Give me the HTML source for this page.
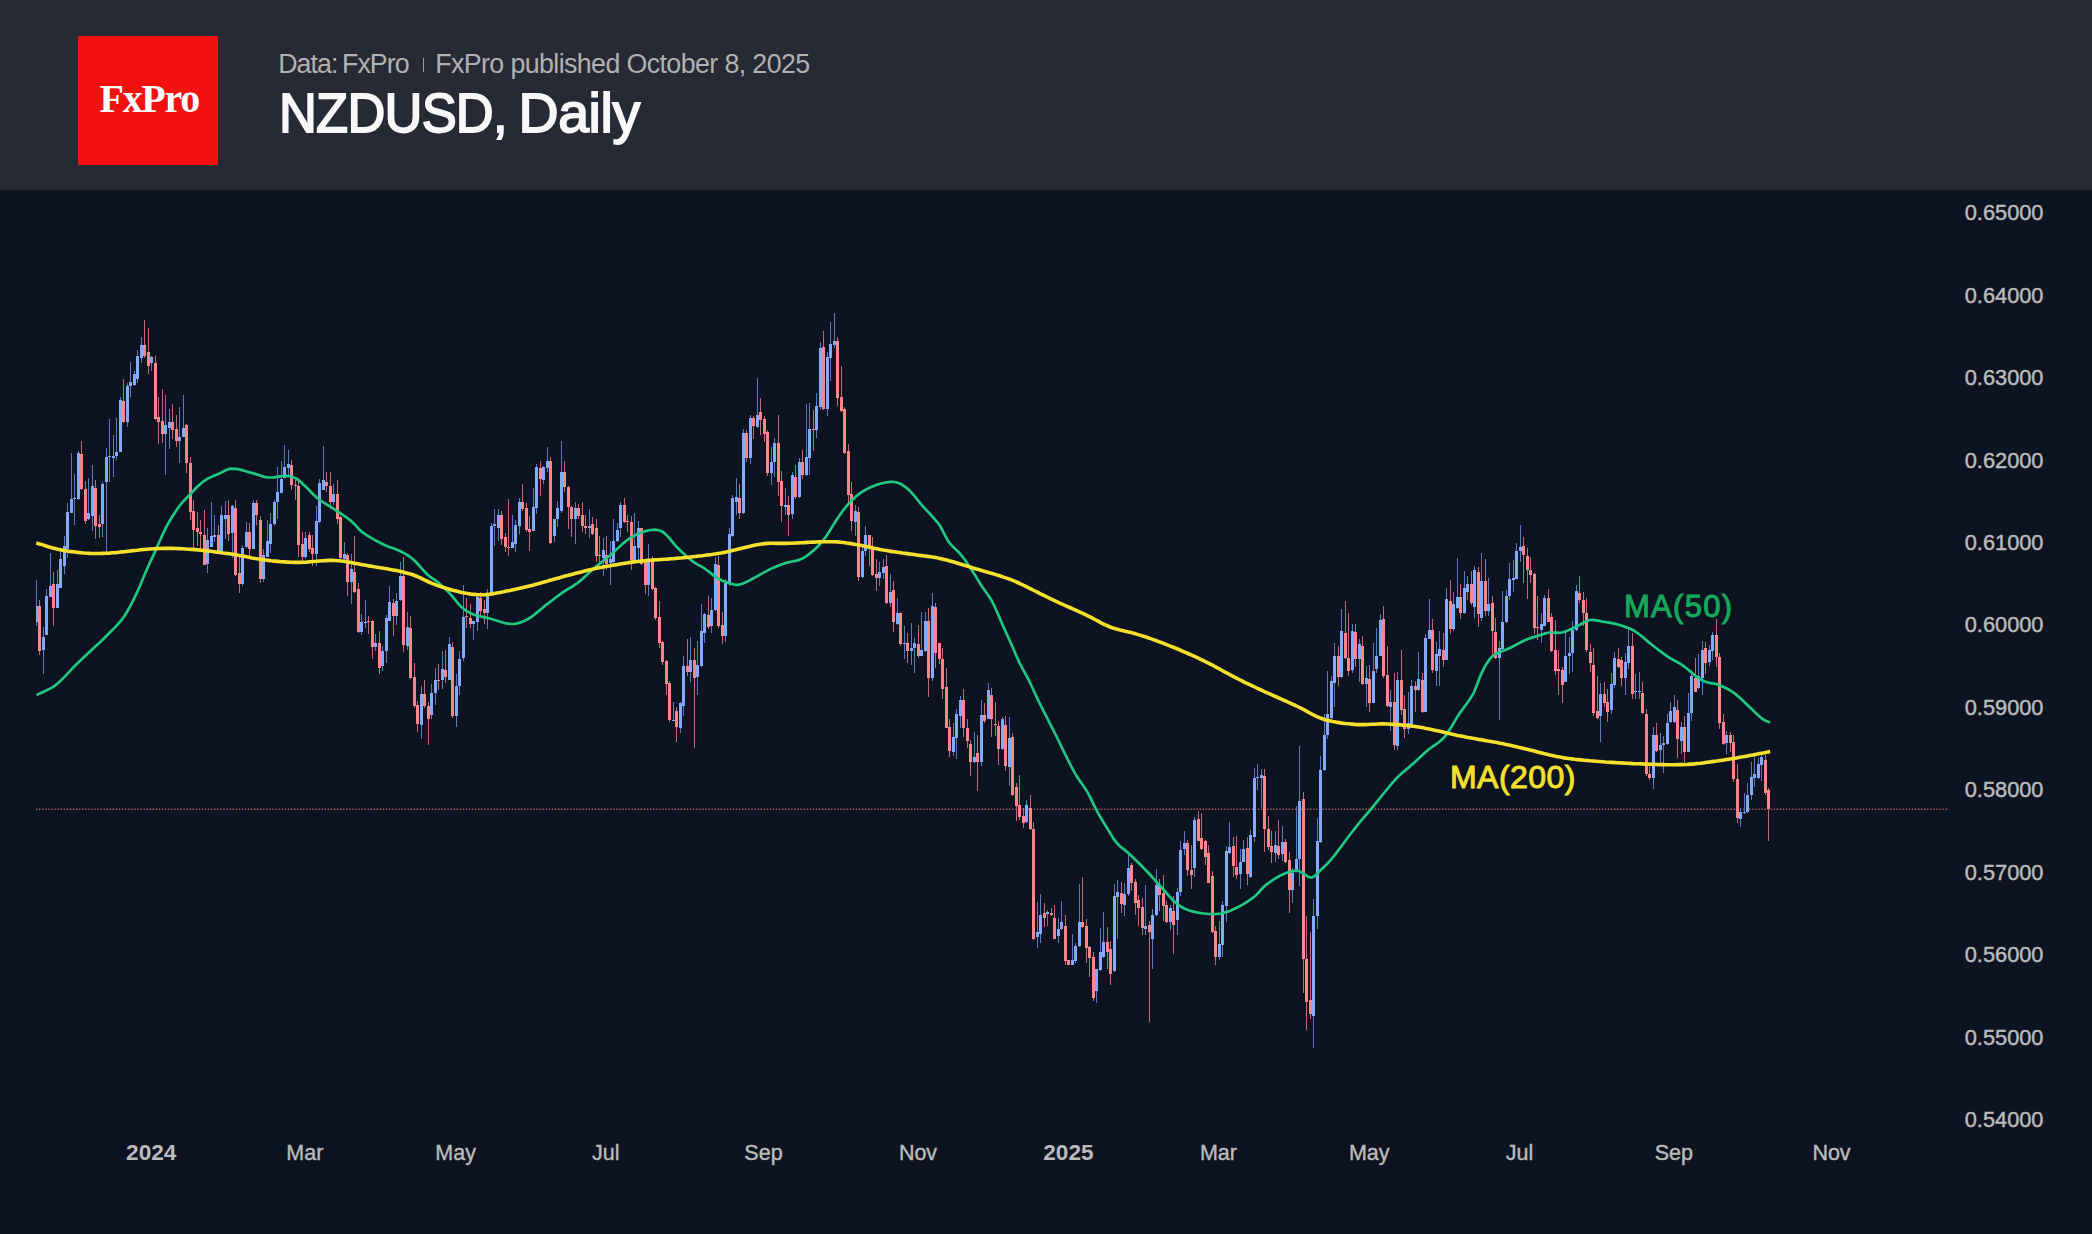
<!DOCTYPE html>
<html><head><meta charset="utf-8"><title>NZDUSD, Daily</title>
<style>
html,body{margin:0;padding:0;background:#0d1321;}
body{width:2092px;height:1234px;overflow:hidden;position:relative;font-family:"Liberation Sans",sans-serif;}
#hdr{position:absolute;left:0;top:0;width:2092px;height:189.5px;background:#272935;}
#logo{position:absolute;left:78px;top:36px;width:140px;height:129.2px;background:#f21011;}
#logo span{position:absolute;left:21.5px;top:39.9px;font-family:"Liberation Serif",serif;font-weight:bold;font-size:40px;line-height:46px;color:#fff;letter-spacing:-1.3px;white-space:nowrap;}
.sub{position:absolute;top:47.8px;font-size:26.8px;line-height:32px;color:#b1b1b1;white-space:nowrap;}
#s1{left:278.2px;letter-spacing:-0.95px;word-spacing:-2px;}
#s2{left:435.2px;letter-spacing:-0.61px;}
#sep{position:absolute;left:423px;top:57.5px;width:1.2px;height:14.4px;background:#9c9c9c;}
.ttl{position:absolute;top:81.1px;font-size:55.5px;line-height:64px;color:#f8f8f8;white-space:nowrap;-webkit-text-stroke:1.8px #f8f8f8;}
#t1{left:278.8px;letter-spacing:-0.8px;transform:scaleX(0.945);transform-origin:0 0;}
#t2{left:518.5px;letter-spacing:-0.43px;}
svg{position:absolute;left:0;top:0;}
</style></head><body>
<div id="hdr"><div id="logo"><span>FxPro</span></div>
<div class="sub" id="s1">Data: FxPro</div><div id="sep"></div><div class="sub" id="s2">FxPro published October 8, 2025</div>
<div class="ttl" id="t1">NZDUSD,</div><div class="ttl" id="t2">Daily</div></div>
<svg width="2092" height="1234" viewBox="0 0 2092 1234">
<defs><clipPath id="cp"><rect x="36" y="190" width="1913" height="940"/></clipPath></defs>
<g clip-path="url(#cp)">
<line x1="36" y1="809.2" x2="1949" y2="809.2" stroke="#ad5f69" stroke-width="1.4" stroke-dasharray="1.4 1.67"/>
<g shape-rendering="crispEdges">
<path fill="#5b79bd" d="M36 580h1V626h-1zM43 627h1V674h-1zM46 589h1V635h-1zM50 553h1V597h-1zM57 570h1V608h-1zM60 550h1V588h-1zM64 536h1V574h-1zM67 503h1V558h-1zM71 453h1V513h-1zM74 474h1V525h-1zM78 451h1V500h-1zM88 478h1V520h-1zM92 465h1V531h-1zM102 482h1V537h-1zM106 448h1V554h-1zM109 419h1V482h-1zM113 435h1V477h-1zM116 418h1V460h-1zM120 397h1V452h-1zM127 383h1V427h-1zM130 362h1V397h-1zM134 371h1V386h-1zM137 350h1V383h-1zM141 337h1V363h-1zM151 356h1V371h-1zM165 395h1V475h-1zM169 409h1V449h-1zM179 407h1V463h-1zM183 395h1V437h-1zM207 528h1V573h-1zM211 502h1V547h-1zM214 515h1V542h-1zM221 506h1V553h-1zM225 501h1V539h-1zM232 505h1V558h-1zM242 545h1V586h-1zM246 522h1V548h-1zM253 500h1V549h-1zM263 549h1V582h-1zM267 520h1V557h-1zM270 513h1V553h-1zM274 500h1V526h-1zM277 467h1V519h-1zM281 461h1V493h-1zM284 445h1V478h-1zM288 450h1V477h-1zM305 532h1V559h-1zM316 506h1V566h-1zM319 479h1V523h-1zM323 446h1V490h-1zM333 484h1V505h-1zM344 542h1V560h-1zM351 554h1V604h-1zM361 614h1V635h-1zM365 600h1V628h-1zM375 634h1V651h-1zM382 646h1V671h-1zM386 615h1V663h-1zM389 586h1V621h-1zM396 593h1V625h-1zM400 562h1V601h-1zM407 612h1V650h-1zM421 686h1V739h-1zM431 684h1V719h-1zM435 668h1V705h-1zM442 651h1V689h-1zM449 637h1V680h-1zM456 674h1V727h-1zM459 651h1V695h-1zM463 585h1V661h-1zM473 621h1V640h-1zM477 595h1V631h-1zM487 589h1V629h-1zM491 523h1V594h-1zM494 509h1V546h-1zM498 509h1V541h-1zM512 515h1V548h-1zM515 520h1V552h-1zM519 498h1V534h-1zM533 488h1V531h-1zM536 464h1V514h-1zM543 466h1V484h-1zM547 447h1V472h-1zM554 519h1V542h-1zM557 501h1V527h-1zM561 441h1V513h-1zM575 502h1V544h-1zM589 509h1V538h-1zM603 538h1V576h-1zM610 541h1V585h-1zM613 519h1V566h-1zM617 523h1V542h-1zM620 502h1V537h-1zM634 513h1V561h-1zM638 521h1V560h-1zM648 544h1V596h-1zM673 702h1V721h-1zM680 702h1V733h-1zM683 656h1V716h-1zM690 637h1V682h-1zM697 641h1V695h-1zM701 604h1V667h-1zM704 613h1V643h-1zM711 598h1V633h-1zM715 557h1V611h-1zM725 579h1V642h-1zM729 528h1V586h-1zM732 495h1V537h-1zM736 478h1V515h-1zM743 429h1V514h-1zM750 415h1V464h-1zM757 378h1V428h-1zM771 447h1V485h-1zM774 438h1V477h-1zM785 488h1V515h-1zM792 472h1V519h-1zM799 458h1V498h-1zM806 404h1V476h-1zM809 403h1V475h-1zM816 393h1V438h-1zM820 342h1V410h-1zM827 352h1V416h-1zM830 322h1V381h-1zM834 313h1V348h-1zM855 505h1V536h-1zM862 544h1V578h-1zM865 526h1V556h-1zM879 562h1V586h-1zM883 559h1V579h-1zM890 574h1V607h-1zM897 598h1V625h-1zM904 626h1V659h-1zM911 623h1V665h-1zM914 638h1V673h-1zM921 612h1V656h-1zM925 612h1V652h-1zM932 593h1V681h-1zM953 723h1V756h-1zM956 709h1V759h-1zM960 696h1V728h-1zM974 732h1V763h-1zM981 700h1V766h-1zM988 683h1V719h-1zM1002 717h1V750h-1zM1009 717h1V786h-1zM1026 800h1V823h-1zM1037 902h1V948h-1zM1040 894h1V943h-1zM1047 910h1V926h-1zM1058 918h1V943h-1zM1061 901h1V930h-1zM1072 934h1V965h-1zM1075 943h1V963h-1zM1079 884h1V947h-1zM1096 969h1V1003h-1zM1100 928h1V971h-1zM1103 912h1V958h-1zM1114 884h1V972h-1zM1117 880h1V939h-1zM1124 883h1V916h-1zM1128 853h1V896h-1zM1145 885h1V935h-1zM1152 909h1V969h-1zM1156 869h1V916h-1zM1170 905h1V930h-1zM1177 888h1V935h-1zM1180 841h1V896h-1zM1184 831h1V855h-1zM1194 817h1V877h-1zM1219 921h1V960h-1zM1222 901h1V957h-1zM1226 846h1V922h-1zM1229 822h1V854h-1zM1240 849h1V889h-1zM1243 840h1V862h-1zM1250 830h1V878h-1zM1254 768h1V842h-1zM1257 764h1V790h-1zM1261 769h1V808h-1zM1275 831h1V862h-1zM1282 826h1V861h-1zM1292 868h1V903h-1zM1296 806h1V872h-1zM1299 746h1V886h-1zM1313 899h1V1048h-1zM1317 818h1V929h-1zM1320 756h1V843h-1zM1324 714h1V771h-1zM1327 671h1V739h-1zM1331 676h1V719h-1zM1334 643h1V707h-1zM1341 609h1V678h-1zM1352 624h1V673h-1zM1359 639h1V682h-1zM1366 666h1V707h-1zM1373 643h1V703h-1zM1376 628h1V673h-1zM1380 614h1V656h-1zM1390 690h1V731h-1zM1397 672h1V750h-1zM1408 692h1V734h-1zM1411 680h1V727h-1zM1418 652h1V691h-1zM1425 634h1V712h-1zM1429 599h1V639h-1zM1436 642h1V686h-1zM1439 631h1V686h-1zM1446 588h1V660h-1zM1453 592h1V631h-1zM1457 558h1V609h-1zM1464 571h1V614h-1zM1467 576h1V600h-1zM1474 566h1V618h-1zM1481 553h1V621h-1zM1488 578h1V616h-1zM1499 641h1V720h-1zM1502 591h1V650h-1zM1506 590h1V623h-1zM1509 563h1V600h-1zM1513 560h1V592h-1zM1516 543h1V579h-1zM1520 525h1V562h-1zM1541 613h1V643h-1zM1544 595h1V626h-1zM1565 632h1V682h-1zM1569 637h1V674h-1zM1572 621h1V672h-1zM1576 585h1V631h-1zM1600 683h1V742h-1zM1611 673h1V714h-1zM1614 652h1V688h-1zM1625 653h1V695h-1zM1628 628h1V669h-1zM1635 674h1V699h-1zM1639 672h1V699h-1zM1653 727h1V789h-1zM1660 733h1V765h-1zM1663 736h1V773h-1zM1667 714h1V745h-1zM1670 702h1V723h-1zM1674 695h1V723h-1zM1681 722h1V754h-1zM1688 693h1V752h-1zM1691 670h1V721h-1zM1698 654h1V689h-1zM1702 641h1V695h-1zM1709 645h1V666h-1zM1712 632h1V660h-1zM1726 731h1V754h-1zM1740 808h1V827h-1zM1744 793h1V814h-1zM1747 783h1V813h-1zM1751 762h1V800h-1zM1754 754h1V787h-1zM1758 758h1V779h-1zM1761 752h1V781h-1z"/>
<path fill="#c26a73" d="M39 600h1V655h-1zM53 572h1V626h-1zM81 441h1V490h-1zM85 481h1V524h-1zM95 480h1V539h-1zM99 515h1V538h-1zM123 379h1V423h-1zM144 320h1V358h-1zM148 328h1V374h-1zM155 356h1V420h-1zM158 397h1V444h-1zM162 389h1V443h-1zM172 404h1V439h-1zM176 415h1V447h-1zM186 424h1V473h-1zM190 457h1V520h-1zM193 500h1V551h-1zM197 512h1V546h-1zM200 520h1V550h-1zM204 510h1V565h-1zM218 525h1V552h-1zM228 500h1V541h-1zM235 500h1V576h-1zM239 557h1V593h-1zM249 523h1V558h-1zM256 500h1V525h-1zM260 516h1V583h-1zM291 460h1V490h-1zM295 478h1V500h-1zM298 478h1V557h-1zM302 532h1V561h-1zM309 532h1V552h-1zM312 535h1V566h-1zM326 472h1V492h-1zM330 472h1V509h-1zM337 480h1V524h-1zM340 516h1V559h-1zM347 553h1V596h-1zM354 536h1V593h-1zM358 583h1V633h-1zM368 616h1V634h-1zM372 620h1V659h-1zM379 631h1V674h-1zM393 599h1V636h-1zM403 557h1V652h-1zM410 616h1V679h-1zM414 663h1V708h-1zM417 701h1V732h-1zM424 680h1V708h-1zM428 702h1V745h-1zM438 664h1V690h-1zM445 650h1V683h-1zM452 642h1V718h-1zM466 598h1V628h-1zM470 604h1V628h-1zM480 592h1V617h-1zM484 600h1V624h-1zM501 511h1V545h-1zM505 533h1V552h-1zM508 499h1V556h-1zM522 484h1V511h-1zM526 503h1V532h-1zM529 516h1V551h-1zM540 461h1V496h-1zM550 457h1V544h-1zM564 461h1V492h-1zM568 486h1V529h-1zM571 506h1V537h-1zM578 504h1V519h-1zM582 502h1V532h-1zM585 515h1V534h-1zM592 517h1V535h-1zM596 519h1V562h-1zM599 536h1V566h-1zM606 536h1V570h-1zM624 498h1V523h-1zM627 515h1V532h-1zM631 516h1V570h-1zM641 528h1V565h-1zM645 560h1V594h-1zM652 556h1V590h-1zM655 587h1V620h-1zM659 601h1V648h-1zM662 641h1V665h-1zM666 660h1V695h-1zM669 681h1V722h-1zM676 707h1V742h-1zM687 639h1V676h-1zM694 648h1V748h-1zM708 596h1V629h-1zM718 556h1V628h-1zM722 612h1V644h-1zM739 484h1V519h-1zM746 430h1V462h-1zM753 416h1V439h-1zM760 398h1V435h-1zM764 416h1V442h-1zM767 430h1V476h-1zM778 415h1V496h-1zM781 471h1V522h-1zM788 496h1V536h-1zM795 465h1V499h-1zM802 450h1V479h-1zM813 410h1V451h-1zM823 331h1V410h-1zM837 337h1V406h-1zM841 366h1V412h-1zM844 407h1V454h-1zM848 444h1V504h-1zM851 482h1V531h-1zM858 507h1V581h-1zM869 535h1V566h-1zM872 537h1V576h-1zM876 559h1V591h-1zM886 555h1V604h-1zM893 581h1V632h-1zM900 612h1V646h-1zM907 633h1V663h-1zM918 625h1V658h-1zM928 608h1V697h-1zM935 603h1V668h-1zM939 643h1V664h-1zM942 648h1V699h-1zM946 668h1V728h-1zM949 719h1V757h-1zM963 689h1V737h-1zM967 719h1V748h-1zM970 740h1V776h-1zM977 735h1V791h-1zM984 703h1V723h-1zM991 688h1V737h-1zM995 702h1V736h-1zM998 721h1V765h-1zM1005 716h1V771h-1zM1012 733h1V796h-1zM1016 783h1V821h-1zM1019 775h1V820h-1zM1023 808h1V828h-1zM1030 795h1V830h-1zM1033 822h1V940h-1zM1044 903h1V927h-1zM1051 908h1V916h-1zM1054 905h1V939h-1zM1065 915h1V965h-1zM1068 960h1V965h-1zM1082 877h1V928h-1zM1086 919h1V963h-1zM1089 946h1V977h-1zM1093 952h1V1001h-1zM1107 927h1V969h-1zM1110 941h1V985h-1zM1121 882h1V913h-1zM1131 863h1V891h-1zM1135 879h1V915h-1zM1138 895h1V926h-1zM1142 898h1V935h-1zM1149 921h1V1022h-1zM1159 879h1V911h-1zM1163 875h1V921h-1zM1166 901h1V923h-1zM1173 896h1V954h-1zM1187 840h1V876h-1zM1191 845h1V889h-1zM1198 811h1V841h-1zM1201 813h1V850h-1zM1205 840h1V865h-1zM1208 845h1V883h-1zM1212 871h1V933h-1zM1215 926h1V965h-1zM1233 837h1V877h-1zM1236 836h1V879h-1zM1247 837h1V885h-1zM1264 769h1V852h-1zM1268 816h1V850h-1zM1271 831h1V863h-1zM1278 820h1V859h-1zM1285 839h1V863h-1zM1289 852h1V913h-1zM1303 792h1V993h-1zM1306 916h1V1030h-1zM1310 932h1V1019h-1zM1338 646h1V686h-1zM1345 601h1V659h-1zM1348 613h1V676h-1zM1355 624h1V667h-1zM1362 636h1V685h-1zM1369 665h1V712h-1zM1383 606h1V678h-1zM1387 646h1V707h-1zM1394 673h1V750h-1zM1401 650h1V715h-1zM1404 695h1V738h-1zM1415 681h1V712h-1zM1422 673h1V713h-1zM1432 619h1V673h-1zM1443 633h1V667h-1zM1450 580h1V634h-1zM1460 584h1V619h-1zM1471 571h1V605h-1zM1478 567h1V627h-1zM1485 559h1V616h-1zM1492 596h1V656h-1zM1495 618h1V659h-1zM1523 537h1V583h-1zM1527 548h1V599h-1zM1530 557h1V583h-1zM1534 573h1V634h-1zM1537 596h1V640h-1zM1548 589h1V622h-1zM1551 613h1V652h-1zM1555 620h1V675h-1zM1558 650h1V695h-1zM1562 667h1V703h-1zM1579 576h1V603h-1zM1583 592h1V626h-1zM1586 598h1V652h-1zM1590 644h1V672h-1zM1593 648h1V716h-1zM1597 676h1V719h-1zM1604 682h1V707h-1zM1607 689h1V722h-1zM1618 648h1V668h-1zM1621 657h1V686h-1zM1632 633h1V699h-1zM1642 682h1V714h-1zM1646 709h1V776h-1zM1649 762h1V780h-1zM1656 723h1V752h-1zM1677 700h1V758h-1zM1684 716h1V762h-1zM1695 658h1V692h-1zM1705 642h1V674h-1zM1716 619h1V667h-1zM1719 653h1V729h-1zM1723 714h1V745h-1zM1730 732h1V752h-1zM1733 735h1V782h-1zM1737 764h1V823h-1zM1765 755h1V795h-1zM1768 788h1V841h-1z"/>
<path fill="#82aaff" d="M35 606h3V622h-3zM42 637h3V650h-3zM45 596h3V635h-3zM49 586h3V597h-3zM56 584h3V608h-3zM59 559h3V588h-3zM63 546h3V566h-3zM66 512h3V549h-3zM70 499h3V513h-3zM73 498h3V499h-3zM77 453h3V499h-3zM87 513h3V519h-3zM91 486h3V516h-3zM101 484h3V524h-3zM105 457h3V482h-3zM108 456h3V457h-3zM112 456h3V458h-3zM115 452h3V456h-3zM119 400h3V452h-3zM126 386h3V422h-3zM129 382h3V386h-3zM133 374h3V385h-3zM136 356h3V379h-3zM140 345h3V358h-3zM150 357h3V363h-3zM164 425h3V434h-3zM168 422h3V428h-3zM178 437h3V441h-3zM182 428h3V437h-3zM206 540h3V564h-3zM210 536h3V547h-3zM213 535h3V537h-3zM220 515h3V551h-3zM224 515h3V519h-3zM231 506h3V533h-3zM241 548h3V584h-3zM245 532h3V547h-3zM252 503h3V549h-3zM262 555h3V579h-3zM266 541h3V557h-3zM269 524h3V544h-3zM273 502h3V524h-3zM276 492h3V502h-3zM280 479h3V493h-3zM283 467h3V478h-3zM287 464h3V468h-3zM304 538h3V557h-3zM315 521h3V554h-3zM318 483h3V522h-3zM322 480h3V490h-3zM332 494h3V502h-3zM343 554h3V559h-3zM350 569h3V582h-3zM360 622h3V632h-3zM364 622h3V623h-3zM374 643h3V647h-3zM381 651h3V666h-3zM385 618h3V651h-3zM388 602h3V621h-3zM395 601h3V616h-3zM399 576h3V600h-3zM406 627h3V646h-3zM420 694h3V725h-3zM430 693h3V715h-3zM434 680h3V693h-3zM441 669h3V680h-3zM448 644h3V680h-3zM455 686h3V716h-3zM458 659h3V686h-3zM462 617h3V658h-3zM472 621h3V624h-3zM476 597h3V622h-3zM486 593h3V613h-3zM490 526h3V594h-3zM493 524h3V526h-3zM497 515h3V528h-3zM511 542h3V548h-3zM514 525h3V544h-3zM518 502h3V526h-3zM532 507h3V531h-3zM535 467h3V508h-3zM542 467h3V480h-3zM546 461h3V468h-3zM553 519h3V536h-3zM556 508h3V519h-3zM560 472h3V511h-3zM574 508h3V519h-3zM588 526h3V528h-3zM602 550h3V558h-3zM609 559h3V563h-3zM612 541h3V562h-3zM616 530h3V541h-3zM619 505h3V528h-3zM633 546h3V560h-3zM637 528h3V548h-3zM647 560h3V585h-3zM672 720h3V721h-3zM679 703h3V728h-3zM682 666h3V706h-3zM689 660h3V672h-3zM696 665h3V677h-3zM700 631h3V666h-3zM703 614h3V633h-3zM710 610h3V626h-3zM714 564h3V610h-3zM724 583h3V636h-3zM728 534h3V583h-3zM731 498h3V536h-3zM735 497h3V502h-3zM742 433h3V513h-3zM749 418h3V458h-3zM756 415h3V427h-3zM770 462h3V473h-3zM773 443h3V462h-3zM784 505h3V507h-3zM791 475h3V514h-3zM798 462h3V497h-3zM805 457h3V475h-3zM808 429h3V458h-3zM815 406h3V430h-3zM819 348h3V407h-3zM826 357h3V409h-3zM829 344h3V358h-3zM833 341h3V345h-3zM854 511h3V522h-3zM861 551h3V577h-3zM864 535h3V551h-3zM878 572h3V578h-3zM882 567h3V573h-3zM889 592h3V603h-3zM896 613h3V624h-3zM903 643h3V644h-3zM910 648h3V651h-3zM913 643h3V648h-3zM920 650h3V656h-3zM924 621h3V651h-3zM931 606h3V678h-3zM952 737h3V752h-3zM955 714h3V738h-3zM959 700h3V716h-3zM973 757h3V762h-3zM980 715h3V762h-3zM987 690h3V719h-3zM1001 719h3V749h-3zM1008 738h3V767h-3zM1025 805h3V822h-3zM1036 932h3V937h-3zM1039 915h3V934h-3zM1046 912h3V914h-3zM1057 929h3V936h-3zM1060 922h3V929h-3zM1071 960h3V965h-3zM1074 946h3V961h-3zM1078 922h3V946h-3zM1095 969h3V991h-3zM1099 952h3V970h-3zM1102 942h3V957h-3zM1113 896h3V971h-3zM1116 892h3V897h-3zM1123 894h3V905h-3zM1127 868h3V894h-3zM1144 926h3V929h-3zM1151 915h3V939h-3zM1155 885h3V915h-3zM1169 908h3V922h-3zM1176 892h3V920h-3zM1179 850h3V892h-3zM1183 843h3V849h-3zM1193 820h3V868h-3zM1218 944h3V957h-3zM1221 905h3V945h-3zM1225 851h3V906h-3zM1228 847h3V853h-3zM1239 862h3V874h-3zM1242 849h3V862h-3zM1249 835h3V877h-3zM1253 778h3V837h-3zM1256 777h3V778h-3zM1260 775h3V778h-3zM1274 845h3V853h-3zM1281 842h3V854h-3zM1291 873h3V890h-3zM1295 859h3V871h-3zM1298 801h3V859h-3zM1312 916h3V1016h-3zM1316 841h3V916h-3zM1319 770h3V842h-3zM1323 735h3V770h-3zM1326 714h3V735h-3zM1330 681h3V718h-3zM1333 656h3V683h-3zM1340 631h3V677h-3zM1351 631h3V670h-3zM1358 644h3V659h-3zM1365 678h3V684h-3zM1372 671h3V703h-3zM1375 656h3V669h-3zM1379 620h3V656h-3zM1389 702h3V707h-3zM1396 680h3V746h-3zM1407 723h3V729h-3zM1410 686h3V724h-3zM1417 679h3V690h-3zM1424 638h3V712h-3zM1428 630h3V639h-3zM1435 654h3V671h-3zM1438 649h3V656h-3zM1445 599h3V660h-3zM1452 604h3V629h-3zM1456 597h3V608h-3zM1463 588h3V613h-3zM1466 584h3V592h-3zM1473 570h3V607h-3zM1480 581h3V618h-3zM1487 604h3V611h-3zM1498 648h3V658h-3zM1501 622h3V649h-3zM1505 596h3V622h-3zM1508 579h3V596h-3zM1512 578h3V580h-3zM1515 551h3V579h-3zM1519 547h3V551h-3zM1540 624h3V630h-3zM1543 598h3V626h-3zM1564 656h3V682h-3zM1568 653h3V656h-3zM1571 630h3V653h-3zM1575 591h3V630h-3zM1599 694h3V716h-3zM1610 684h3V710h-3zM1613 658h3V685h-3zM1624 662h3V678h-3zM1627 646h3V663h-3zM1634 691h3V692h-3zM1638 691h3V692h-3zM1652 735h3V778h-3zM1659 745h3V750h-3zM1662 743h3V745h-3zM1666 723h3V744h-3zM1669 711h3V722h-3zM1673 707h3V722h-3zM1680 727h3V741h-3zM1687 713h3V752h-3zM1690 676h3V713h-3zM1697 676h3V688h-3zM1701 650h3V678h-3zM1708 650h3V662h-3zM1711 635h3V651h-3zM1725 735h3V743h-3zM1739 812h3V819h-3zM1743 812h3V813h-3zM1746 795h3V812h-3zM1750 777h3V795h-3zM1753 774h3V778h-3zM1757 764h3V778h-3zM1760 757h3V765h-3z"/>
<path fill="#ff868a" d="M38 606h3V651h-3zM52 584h3V608h-3zM80 454h3V489h-3zM84 489h3V521h-3zM94 488h3V526h-3zM98 524h3V527h-3zM122 401h3V422h-3zM143 345h3V356h-3zM147 352h3V366h-3zM154 363h3V419h-3zM157 417h3V422h-3zM161 421h3V434h-3zM171 422h3V430h-3zM175 429h3V441h-3zM185 425h3V463h-3zM189 463h3V512h-3zM192 511h3V530h-3zM196 528h3V532h-3zM199 532h3V534h-3zM203 535h3V565h-3zM217 535h3V552h-3zM227 515h3V534h-3zM234 508h3V575h-3zM238 573h3V584h-3zM248 532h3V549h-3zM255 503h3V515h-3zM259 520h3V579h-3zM290 465h3V485h-3zM294 485h3V486h-3zM297 486h3V545h-3zM301 544h3V557h-3zM308 535h3V549h-3zM311 548h3V554h-3zM325 482h3V486h-3zM329 486h3V502h-3zM336 494h3V519h-3zM339 517h3V558h-3zM346 555h3V582h-3zM353 572h3V592h-3zM357 589h3V632h-3zM367 621h3V622h-3zM371 621h3V647h-3zM378 643h3V668h-3zM392 603h3V616h-3zM402 576h3V645h-3zM409 628h3V678h-3zM413 677h3V706h-3zM416 705h3V724h-3zM423 694h3V706h-3zM427 706h3V719h-3zM437 680h3V681h-3zM444 670h3V677h-3zM451 647h3V716h-3zM465 616h3V617h-3zM469 618h3V624h-3zM479 598h3V611h-3zM483 609h3V613h-3zM500 515h3V539h-3zM504 537h3V547h-3zM507 547h3V548h-3zM521 502h3V509h-3zM525 508h3V530h-3zM528 529h3V532h-3zM539 468h3V479h-3zM549 461h3V543h-3zM563 472h3V487h-3zM567 487h3V507h-3zM570 507h3V519h-3zM577 508h3V516h-3zM581 515h3V526h-3zM584 526h3V528h-3zM591 524h3V534h-3zM595 528h3V556h-3zM598 555h3V556h-3zM605 555h3V564h-3zM623 505h3V522h-3zM626 521h3V522h-3zM630 522h3V560h-3zM640 528h3V564h-3zM644 562h3V585h-3zM651 560h3V589h-3zM654 588h3V618h-3zM658 617h3V643h-3zM661 642h3V662h-3zM665 661h3V684h-3zM668 683h3V720h-3zM675 711h3V727h-3zM686 666h3V672h-3zM693 660h3V678h-3zM707 615h3V627h-3zM717 565h3V626h-3zM721 625h3V636h-3zM738 498h3V513h-3zM745 433h3V458h-3zM752 418h3V426h-3zM759 412h3V420h-3zM763 419h3V434h-3zM766 432h3V473h-3zM777 443h3V482h-3zM780 481h3V506h-3zM787 505h3V515h-3zM794 477h3V497h-3zM801 462h3V475h-3zM812 429h3V430h-3zM822 347h3V409h-3zM836 341h3V398h-3zM840 397h3V411h-3zM843 409h3V453h-3zM847 451h3V495h-3zM850 494h3V521h-3zM857 512h3V577h-3zM868 535h3V547h-3zM871 547h3V575h-3zM875 574h3V578h-3zM885 566h3V603h-3zM892 590h3V622h-3zM899 613h3V644h-3zM906 643h3V651h-3zM917 644h3V656h-3zM927 621h3V678h-3zM934 607h3V653h-3zM938 643h3V659h-3zM941 659h3V689h-3zM945 687h3V728h-3zM948 727h3V751h-3zM962 700h3V728h-3zM966 728h3V741h-3zM969 744h3V762h-3zM976 753h3V762h-3zM983 715h3V721h-3zM990 695h3V719h-3zM994 724h3V725h-3zM997 726h3V749h-3zM1004 725h3V766h-3zM1011 737h3V795h-3zM1015 787h3V806h-3zM1018 805h3V817h-3zM1022 816h3V823h-3zM1029 808h3V829h-3zM1032 829h3V939h-3zM1043 913h3V918h-3zM1050 913h3V915h-3zM1053 918h3V939h-3zM1064 926h3V961h-3zM1067 960h3V965h-3zM1081 922h3V927h-3zM1085 926h3V948h-3zM1088 947h3V958h-3zM1092 957h3V998h-3zM1106 942h3V952h-3zM1109 949h3V974h-3zM1120 893h3V904h-3zM1130 865h3V883h-3zM1134 882h3V903h-3zM1137 900h3V908h-3zM1141 907h3V928h-3zM1148 925h3V932h-3zM1158 885h3V895h-3zM1162 893h3V906h-3zM1165 905h3V922h-3zM1172 911h3V925h-3zM1186 843h3V870h-3zM1190 870h3V875h-3zM1197 819h3V841h-3zM1200 838h3V849h-3zM1204 841h3V857h-3zM1207 853h3V883h-3zM1211 876h3V932h-3zM1214 931h3V957h-3zM1232 846h3V866h-3zM1235 867h3V875h-3zM1246 848h3V874h-3zM1263 776h3V829h-3zM1267 829h3V847h-3zM1270 846h3V852h-3zM1277 846h3V855h-3zM1284 842h3V862h-3zM1288 860h3V890h-3zM1302 799h3V959h-3zM1305 959h3V1002h-3zM1309 1000h3V1014h-3zM1337 656h3V677h-3zM1344 633h3V658h-3zM1347 658h3V671h-3zM1354 632h3V659h-3zM1361 646h3V684h-3zM1368 679h3V703h-3zM1382 619h3V676h-3zM1386 675h3V706h-3zM1393 702h3V745h-3zM1400 680h3V710h-3zM1403 709h3V729h-3zM1414 686h3V690h-3zM1421 680h3V712h-3zM1431 630h3V670h-3zM1442 650h3V660h-3zM1449 601h3V629h-3zM1459 597h3V613h-3zM1470 584h3V603h-3zM1477 572h3V614h-3zM1484 581h3V611h-3zM1491 603h3V631h-3zM1494 632h3V658h-3zM1522 546h3V555h-3zM1526 556h3V570h-3zM1529 570h3V575h-3zM1533 574h3V628h-3zM1536 627h3V628h-3zM1547 598h3V622h-3zM1550 617h3V651h-3zM1554 650h3V671h-3zM1557 669h3V671h-3zM1561 670h3V685h-3zM1578 593h3V600h-3zM1582 600h3V613h-3zM1585 613h3V650h-3zM1589 652h3V663h-3zM1592 665h3V713h-3zM1596 711h3V718h-3zM1603 694h3V703h-3zM1606 702h3V712h-3zM1617 659h3V667h-3zM1620 660h3V678h-3zM1631 646h3V694h-3zM1641 693h3V713h-3zM1645 714h3V774h-3zM1648 774h3V778h-3zM1655 735h3V751h-3zM1676 710h3V739h-3zM1683 727h3V752h-3zM1694 678h3V692h-3zM1704 648h3V663h-3zM1715 635h3V657h-3zM1718 657h3V723h-3zM1722 722h3V744h-3zM1729 735h3V743h-3zM1732 742h3V779h-3zM1736 779h3V818h-3zM1764 760h3V793h-3zM1767 790h3V809h-3z"/>
</g>
<path d="M36.5 695.0 L39.8 693.4 L43.0 692.0 L46.2 690.5 L49.5 688.9 L52.8 687.1 L56.0 684.8 L59.0 682.3 L62.0 679.4 L65.0 676.4 L68.0 673.2 L71.0 669.9 L74.0 666.7 L77.0 663.7 L80.7 660.2 L84.3 656.8 L87.9 653.4 L91.6 650.0 L94.8 647.0 L98.1 643.9 L101.3 640.9 L104.6 637.8 L107.8 634.5 L111.0 631.3 L114.3 628.1 L117.5 624.7 L120.8 621.0 L124.0 616.7 L127.2 611.5 L130.5 605.6 L133.8 599.1 L137.0 592.4 L140.2 585.2 L143.5 577.3 L146.7 569.7 L149.9 562.6 L153.2 555.6 L156.4 548.6 L159.6 541.3 L162.8 534.1 L166.0 527.5 L169.2 521.7 L172.5 516.3 L175.8 511.3 L179.0 506.5 L182.3 502.4 L185.6 499.0 L189.2 495.3 L192.7 491.5 L196.3 487.8 L199.8 484.5 L203.4 481.5 L206.6 479.3 L209.9 477.6 L213.1 476.1 L216.4 474.8 L219.6 473.4 L222.7 471.9 L225.7 470.3 L228.8 469.1 L231.8 468.6 L234.9 468.8 L238.1 469.2 L241.2 469.9 L244.3 470.8 L247.4 471.7 L250.6 472.6 L253.7 473.4 L257.3 474.5 L260.9 475.8 L264.4 476.9 L268.0 477.5 L271.0 477.5 L274.0 477.3 L277.0 476.8 L280.0 476.3 L283.0 476.0 L286.0 475.9 L289.3 476.2 L292.5 476.9 L295.8 478.3 L299.0 480.5 L302.3 483.4 L305.5 486.4 L309.3 490.2 L313.1 494.2 L316.9 497.7 L319.9 500.0 L322.9 502.0 L325.9 504.0 L329.0 505.8 L332.0 507.7 L335.0 509.7 L338.2 511.9 L341.5 514.0 L344.7 516.2 L348.0 518.5 L351.2 521.0 L355.0 524.7 L358.8 528.9 L362.6 532.4 L365.6 534.5 L368.6 536.4 L371.6 538.2 L374.6 539.9 L377.6 541.5 L380.6 543.0 L383.6 544.5 L386.8 546.0 L390.1 547.2 L393.3 548.3 L396.6 549.6 L399.8 551.0 L403.1 552.6 L406.3 554.4 L409.6 556.5 L412.8 559.0 L416.4 562.5 L420.1 566.6 L423.8 570.8 L427.4 574.5 L430.6 577.2 L433.9 579.4 L437.1 581.7 L440.3 584.2 L444.1 587.7 L447.9 591.6 L451.7 595.6 L454.9 599.5 L458.2 603.6 L461.4 607.0 L465.2 610.0 L469.0 612.4 L472.8 614.2 L476.0 615.3 L479.3 616.2 L482.5 616.9 L485.8 617.6 L489.0 618.3 L492.2 619.2 L495.5 620.2 L498.7 621.3 L502.0 622.3 L505.2 623.1 L508.5 623.7 L511.7 624.0 L514.9 623.8 L518.2 623.1 L521.4 622.1 L524.7 620.7 L527.9 619.0 L531.5 616.8 L535.0 614.1 L538.6 611.1 L542.1 608.2 L545.7 605.3 L548.9 602.8 L552.2 600.3 L555.4 597.8 L558.7 595.3 L561.9 593.0 L565.1 590.9 L568.3 588.9 L571.6 587.0 L574.8 584.9 L578.0 582.6 L581.3 579.9 L584.5 577.0 L587.8 573.9 L591.0 570.9 L594.3 568.0 L597.5 565.3 L600.8 562.8 L604.0 560.2 L607.3 557.7 L610.5 555.0 L613.7 552.1 L617.0 549.1 L620.2 546.0 L623.5 543.1 L626.7 540.5 L630.0 538.2 L633.4 536.2 L636.7 534.4 L640.0 533.0 L643.6 531.7 L647.3 530.6 L651.0 530.0 L654.6 529.7 L657.8 530.0 L661.1 531.0 L664.3 533.0 L667.5 536.1 L670.8 539.9 L674.0 543.9 L677.3 547.5 L680.5 550.7 L683.8 553.7 L687.0 556.7 L690.3 559.4 L693.5 562.0 L697.3 564.4 L701.0 566.4 L704.8 568.6 L708.0 571.0 L711.3 573.6 L714.5 576.1 L717.8 578.3 L721.5 580.3 L725.3 581.8 L729.0 583.0 L732.3 584.1 L735.6 584.8 L738.9 584.8 L742.5 583.7 L746.2 582.1 L749.9 580.2 L753.5 578.3 L756.7 576.6 L760.0 574.7 L763.2 572.9 L766.5 571.1 L769.7 569.4 L772.9 567.9 L776.2 566.5 L779.4 565.2 L782.7 564.0 L785.9 562.9 L789.1 562.1 L792.3 561.5 L795.6 560.9 L798.8 560.1 L802.0 558.8 L805.7 556.6 L809.4 553.9 L813.0 550.9 L816.7 547.5 L819.9 544.2 L823.2 540.3 L826.4 536.0 L829.6 531.1 L832.8 525.8 L836.0 520.7 L839.3 515.8 L842.5 511.2 L845.8 507.0 L849.5 502.7 L853.3 498.9 L857.0 495.6 L860.2 493.1 L863.5 491.0 L866.8 489.1 L870.0 487.5 L873.7 485.9 L877.4 484.6 L881.0 483.5 L884.7 482.7 L888.0 482.2 L891.2 481.9 L894.5 482.0 L897.7 482.7 L901.5 484.3 L905.2 486.8 L909.0 490.0 L912.2 493.4 L915.5 497.3 L918.8 501.4 L922.0 505.3 L925.0 508.6 L928.0 511.8 L931.0 515.0 L934.0 518.3 L937.0 521.8 L940.0 525.7 L944.0 533.3 L948.0 541.0 L951.2 544.9 L954.5 548.2 L957.8 551.2 L961.0 554.8 L964.8 559.8 L968.6 565.3 L972.4 571.0 L975.6 576.1 L978.8 581.4 L982.0 586.5 L985.3 591.2 L988.6 595.7 L991.9 601.0 L996.0 609.5 L1000.0 618.9 L1003.2 626.2 L1006.5 633.5 L1009.8 640.7 L1013.0 648.0 L1016.2 655.5 L1019.4 662.6 L1022.6 668.7 L1025.8 674.5 L1029.0 680.5 L1033.1 689.3 L1037.2 698.3 L1040.5 704.9 L1043.7 711.3 L1047.0 717.7 L1050.8 725.3 L1054.7 732.9 L1058.5 740.5 L1061.7 747.1 L1065.0 753.8 L1068.2 760.4 L1071.5 766.9 L1074.7 772.9 L1077.9 778.1 L1081.2 782.8 L1084.4 787.3 L1087.6 792.4 L1090.9 798.6 L1094.1 805.4 L1097.4 811.8 L1100.6 817.5 L1103.8 822.8 L1107.0 828.0 L1110.3 833.4 L1113.5 838.6 L1116.8 843.0 L1120.5 846.7 L1124.3 849.6 L1128.0 852.7 L1131.3 855.8 L1134.5 858.9 L1137.8 862.1 L1141.1 865.3 L1144.3 868.6 L1147.6 872.0 L1150.8 875.5 L1154.1 879.1 L1157.3 882.8 L1160.6 886.4 L1163.8 890.0 L1167.0 893.6 L1170.3 897.3 L1173.5 900.7 L1176.8 903.7 L1180.5 906.4 L1184.3 908.5 L1188.0 910.0 L1191.3 911.1 L1194.5 911.9 L1197.8 912.6 L1201.0 913.1 L1204.3 913.5 L1207.5 913.8 L1210.8 914.0 L1214.0 914.1 L1217.3 913.9 L1220.5 913.5 L1223.7 912.8 L1227.0 911.9 L1230.2 910.7 L1233.5 909.3 L1236.7 907.8 L1240.3 905.9 L1243.9 903.9 L1247.4 901.6 L1251.0 899.2 L1254.6 896.5 L1258.4 892.8 L1262.2 888.5 L1266.0 884.8 L1269.1 882.5 L1272.3 880.3 L1275.4 878.4 L1278.5 876.5 L1281.7 874.9 L1284.8 873.5 L1288.2 872.2 L1291.7 871.3 L1295.1 870.8 L1298.6 871.0 L1301.8 872.4 L1305.1 874.7 L1308.3 876.8 L1311.6 877.6 L1314.8 876.0 L1318.1 872.8 L1321.3 869.4 L1324.5 866.4 L1327.8 863.2 L1331.0 859.7 L1334.3 855.7 L1337.5 851.4 L1340.8 847.0 L1344.4 842.2 L1348.0 837.3 L1351.7 832.5 L1355.3 827.8 L1358.8 823.5 L1362.4 819.2 L1365.9 815.1 L1369.5 810.9 L1373.0 806.7 L1376.3 802.7 L1379.5 798.6 L1382.8 794.5 L1386.1 790.5 L1389.4 786.5 L1392.6 782.6 L1395.9 779.0 L1399.1 775.7 L1402.3 772.8 L1405.6 770.1 L1408.8 767.4 L1412.0 764.6 L1415.2 761.7 L1418.4 758.7 L1421.6 755.7 L1424.8 752.8 L1428.0 750.0 L1431.3 747.5 L1434.6 745.2 L1437.9 743.0 L1441.2 740.3 L1444.5 737.0 L1448.1 732.1 L1451.8 726.3 L1455.4 720.1 L1459.0 714.3 L1462.7 709.1 L1466.3 704.2 L1470.0 699.0 L1473.7 693.0 L1476.8 685.2 L1480.0 676.7 L1483.3 669.7 L1486.6 663.7 L1489.8 658.9 L1493.0 655.6 L1496.3 653.7 L1499.5 652.2 L1502.8 650.9 L1506.0 649.7 L1509.3 648.3 L1512.5 646.7 L1515.8 644.9 L1519.0 643.2 L1522.3 641.5 L1525.5 640.0 L1528.7 638.7 L1532.0 637.6 L1535.2 636.6 L1538.5 635.6 L1541.7 634.6 L1545.8 633.3 L1549.8 632.5 L1552.8 632.5 L1555.9 632.7 L1559.0 632.9 L1562.0 632.5 L1565.3 631.5 L1568.5 630.2 L1571.8 628.7 L1575.0 627.1 L1578.3 625.6 L1582.1 623.5 L1585.8 621.3 L1589.6 620.0 L1592.8 619.8 L1596.1 620.3 L1599.3 620.9 L1602.6 621.6 L1605.8 622.1 L1609.1 622.6 L1612.3 623.2 L1615.6 623.9 L1618.8 624.8 L1622.0 625.8 L1625.3 626.9 L1628.5 628.1 L1631.8 629.5 L1635.0 631.3 L1638.2 633.5 L1641.5 636.0 L1644.7 638.8 L1648.0 641.6 L1651.2 644.2 L1654.4 646.7 L1657.7 649.3 L1660.9 651.7 L1664.2 654.1 L1667.4 656.4 L1670.6 658.4 L1673.9 660.3 L1677.1 662.0 L1680.4 663.9 L1683.6 666.0 L1686.8 668.5 L1690.1 671.3 L1693.3 674.1 L1696.6 676.7 L1699.6 678.8 L1702.7 680.5 L1705.7 681.9 L1709.5 682.8 L1713.2 683.4 L1717.0 684.3 L1720.3 685.6 L1723.5 687.0 L1726.8 688.5 L1730.0 690.3 L1733.3 692.4 L1736.5 694.9 L1739.8 697.8 L1743.0 700.8 L1746.3 704.0 L1749.5 707.0 L1752.8 710.1 L1756.0 713.3 L1759.2 716.3 L1762.5 719.0 L1766.3 721.0 L1770.2 722.4" fill="none" stroke="#1fc881" stroke-width="2.7" stroke-linejoin="round" stroke-linecap="butt"/>
<path d="M36.2 543.0 L39.5 543.9 L42.8 544.9 L46.0 546.0 L49.3 547.0 L52.6 547.9 L55.9 548.8 L59.1 549.6 L62.4 550.2 L65.5 550.7 L68.6 551.2 L71.7 551.6 L74.8 552.0 L77.9 552.4 L81.0 552.7 L84.2 553.0 L87.3 553.2 L90.4 553.4 L93.5 553.5 L96.6 553.5 L99.7 553.5 L102.9 553.4 L106.0 553.3 L109.2 553.1 L112.3 552.8 L115.5 552.6 L118.6 552.3 L121.8 551.9 L124.9 551.6 L128.1 551.2 L131.2 550.9 L134.3 550.5 L137.5 550.2 L140.7 549.8 L143.8 549.5 L146.9 549.2 L150.1 549.0 L153.2 548.8 L156.4 548.6 L159.6 548.5 L162.9 548.4 L166.1 548.4 L169.3 548.4 L172.6 548.4 L175.8 548.5 L179.1 548.6 L182.3 548.8 L185.5 549.0 L188.8 549.2 L192.0 549.4 L195.1 549.6 L198.2 549.9 L201.4 550.2 L204.5 550.6 L207.6 550.9 L210.7 551.3 L213.9 551.7 L217.0 552.1 L220.1 552.5 L223.2 553.0 L226.4 553.4 L229.5 553.8 L232.6 554.3 L235.8 554.8 L239.1 555.4 L242.3 556.0 L245.6 556.6 L248.8 557.2 L252.0 557.9 L255.3 558.5 L258.5 559.0 L261.8 559.6 L265.0 560.0 L268.2 560.4 L271.5 560.8 L274.7 561.1 L278.0 561.4 L281.2 561.7 L284.4 561.9 L287.7 562.1 L290.9 562.3 L294.2 562.4 L297.4 562.4 L300.5 562.4 L303.7 562.3 L306.8 562.1 L309.9 561.8 L313.1 561.5 L316.2 561.3 L319.3 561.0 L322.5 560.8 L325.6 560.6 L328.7 560.4 L331.9 560.4 L335.0 560.5 L338.2 560.7 L341.5 561.0 L344.7 561.5 L348.0 562.0 L351.2 562.6 L354.4 563.2 L357.7 563.8 L360.9 564.4 L364.2 565.0 L367.4 565.6 L370.6 566.1 L373.9 566.7 L377.1 567.2 L380.4 567.7 L383.6 568.3 L386.8 568.8 L390.1 569.4 L393.3 570.0 L396.6 570.6 L399.8 571.3 L403.0 572.0 L406.3 572.9 L409.5 573.8 L412.8 574.8 L416.0 576.0 L419.2 577.3 L422.4 578.9 L425.6 580.5 L428.8 582.0 L432.0 583.4 L435.3 584.7 L438.6 585.9 L441.9 587.0 L445.2 588.0 L448.5 589.0 L451.7 589.9 L455.0 590.8 L458.2 591.6 L461.5 592.4 L464.7 593.0 L467.9 593.6 L471.2 594.1 L474.4 594.4 L477.7 594.7 L480.9 594.8 L484.1 594.7 L487.3 594.4 L490.6 594.1 L493.8 593.6 L497.0 593.0 L500.2 592.4 L503.5 591.8 L506.8 591.1 L510.0 590.5 L513.2 589.8 L516.5 589.1 L519.8 588.3 L523.0 587.6 L526.2 586.8 L529.5 586.0 L532.8 585.2 L536.0 584.3 L539.2 583.4 L542.5 582.5 L545.8 581.6 L549.0 580.6 L552.2 579.7 L555.5 578.8 L558.8 577.9 L562.0 577.0 L565.2 576.1 L568.5 575.3 L571.7 574.4 L574.9 573.5 L578.1 572.7 L581.4 571.9 L584.6 571.1 L587.8 570.3 L591.1 569.5 L594.3 568.8 L597.5 568.1 L600.8 567.5 L604.0 566.8 L607.3 566.2 L610.5 565.7 L613.7 565.1 L617.0 564.6 L620.2 564.0 L623.5 563.5 L626.7 563.0 L630.3 562.4 L633.9 561.9 L637.4 561.5 L641.0 561.1 L644.6 560.7 L647.9 560.4 L651.1 560.2 L654.4 559.9 L657.7 559.7 L660.9 559.5 L664.2 559.3 L667.4 559.1 L670.7 558.8 L674.0 558.6 L677.2 558.3 L680.5 558.0 L683.6 557.7 L686.7 557.4 L689.8 557.1 L693.0 556.7 L696.1 556.4 L699.2 556.0 L702.3 555.7 L705.4 555.3 L708.5 554.9 L711.7 554.5 L714.8 554.0 L717.9 553.5 L721.0 553.0 L724.1 552.4 L727.2 551.8 L730.4 551.1 L733.5 550.3 L736.6 549.6 L739.7 548.8 L742.9 548.0 L746.0 547.2 L749.1 546.5 L752.2 545.7 L755.4 545.1 L758.5 544.5 L761.6 544.0 L764.6 543.6 L767.7 543.4 L770.7 543.3 L773.8 543.3 L776.8 543.4 L779.8 543.4 L782.9 543.4 L785.9 543.4 L788.9 543.3 L792.0 543.2 L795.0 543.0 L798.0 542.9 L801.1 542.7 L804.1 542.6 L807.2 542.4 L810.2 542.3 L813.2 542.1 L816.3 542.0 L819.3 541.9 L822.4 541.8 L825.4 541.8 L828.4 541.7 L831.5 541.8 L834.5 541.8 L837.5 541.9 L840.6 542.2 L843.6 542.5 L846.6 543.0 L849.7 543.4 L852.7 543.9 L855.8 544.5 L858.8 545.0 L861.8 545.5 L864.8 546.2 L867.9 546.8 L870.9 547.5 L873.9 548.2 L877.0 548.8 L880.0 549.4 L883.0 550.0 L886.2 550.5 L889.5 551.1 L892.8 551.6 L896.0 552.0 L899.2 552.5 L902.5 553.0 L905.8 553.4 L909.0 553.9 L912.2 554.3 L915.5 554.8 L918.6 555.2 L921.6 555.6 L924.7 556.0 L927.8 556.4 L930.8 556.8 L933.9 557.2 L936.9 557.8 L940.0 558.4 L943.2 559.2 L946.5 560.0 L949.7 560.9 L953.0 561.8 L956.2 562.8 L959.4 563.8 L962.7 564.8 L965.9 565.8 L969.2 566.8 L972.4 567.8 L975.5 568.7 L978.6 569.6 L981.7 570.5 L984.8 571.4 L987.9 572.3 L991.0 573.2 L994.2 574.1 L997.3 575.1 L1000.4 576.0 L1003.5 577.1 L1006.6 578.1 L1009.7 579.2 L1012.7 580.4 L1015.7 581.6 L1018.7 583.0 L1021.8 584.5 L1024.8 585.9 L1027.8 587.4 L1030.8 588.9 L1034.0 590.5 L1037.3 592.1 L1040.5 593.8 L1043.8 595.4 L1047.0 597.0 L1050.3 598.6 L1053.5 600.2 L1056.7 601.7 L1060.0 603.2 L1063.2 604.6 L1066.5 606.1 L1069.7 607.5 L1072.9 608.9 L1076.2 610.4 L1079.4 611.8 L1082.7 613.3 L1085.9 614.8 L1088.9 616.3 L1092.0 617.9 L1095.0 619.5 L1098.1 621.2 L1101.1 622.8 L1104.1 624.3 L1107.2 625.7 L1110.2 627.0 L1113.2 628.1 L1116.3 629.0 L1119.3 629.8 L1122.3 630.5 L1125.4 631.2 L1128.4 631.9 L1131.5 632.6 L1134.5 633.5 L1137.5 634.4 L1140.6 635.4 L1143.6 636.3 L1146.7 637.3 L1149.7 638.4 L1152.7 639.4 L1155.8 640.5 L1158.8 641.6 L1161.8 642.7 L1164.8 643.9 L1167.9 645.1 L1170.9 646.3 L1173.9 647.5 L1177.0 648.7 L1180.0 650.0 L1183.0 651.3 L1186.0 652.6 L1189.1 654.0 L1192.2 655.3 L1195.2 656.7 L1198.2 658.2 L1201.3 659.6 L1204.4 661.1 L1207.4 662.6 L1210.4 664.1 L1213.5 665.7 L1216.5 667.4 L1219.6 669.0 L1222.6 670.7 L1225.6 672.4 L1228.7 674.0 L1231.7 675.6 L1235.0 677.3 L1238.2 679.0 L1241.5 680.6 L1244.8 682.3 L1248.1 683.9 L1251.3 685.4 L1254.6 687.0 L1257.7 688.5 L1260.9 689.9 L1264.0 691.4 L1267.2 692.8 L1270.3 694.2 L1273.5 695.6 L1276.6 697.0 L1279.7 698.4 L1282.9 699.8 L1286.0 701.2 L1289.2 702.7 L1292.3 704.1 L1295.5 705.5 L1298.6 707.0 L1301.6 708.5 L1304.7 710.1 L1307.8 711.8 L1310.8 713.5 L1313.8 715.1 L1316.9 716.6 L1320.0 717.9 L1323.0 719.0 L1326.2 719.9 L1329.4 720.7 L1332.6 721.5 L1335.8 722.1 L1339.0 722.6 L1342.2 723.1 L1345.4 723.5 L1348.6 723.8 L1351.8 724.1 L1355.0 724.4 L1358.3 724.6 L1361.6 724.6 L1364.8 724.6 L1368.1 724.5 L1371.4 724.3 L1374.7 724.2 L1378.0 724.0 L1381.2 723.9 L1384.5 723.9 L1387.8 724.0 L1391.0 724.2 L1394.2 724.4 L1397.5 724.6 L1400.7 724.9 L1403.9 725.2 L1407.1 725.5 L1410.3 725.9 L1413.6 726.3 L1416.8 726.8 L1420.0 727.3 L1423.1 727.8 L1426.3 728.4 L1429.4 729.1 L1432.5 729.7 L1435.7 730.4 L1438.8 731.1 L1441.9 731.8 L1445.0 732.6 L1448.2 733.3 L1451.3 734.0 L1454.4 734.7 L1457.6 735.4 L1460.7 736.0 L1463.7 736.6 L1466.7 737.2 L1469.8 737.7 L1472.8 738.3 L1475.8 738.8 L1478.8 739.4 L1481.8 739.9 L1484.8 740.4 L1487.9 741.0 L1490.9 741.5 L1493.9 742.0 L1496.9 742.6 L1499.9 743.2 L1503.0 743.8 L1506.0 744.4 L1509.0 745.0 L1512.2 745.7 L1515.3 746.4 L1518.5 747.2 L1521.7 747.9 L1524.8 748.7 L1528.0 749.5 L1531.1 750.3 L1534.3 751.1 L1537.5 751.9 L1540.6 752.7 L1543.8 753.5 L1546.9 754.2 L1550.1 755.0 L1553.3 755.7 L1556.4 756.4 L1559.6 757.0 L1562.6 757.6 L1565.7 758.1 L1568.7 758.5 L1571.8 758.9 L1574.8 759.3 L1577.9 759.6 L1580.9 759.9 L1584.0 760.2 L1587.0 760.5 L1590.1 760.8 L1593.1 761.0 L1596.2 761.3 L1599.2 761.5 L1602.3 761.7 L1605.4 762.0 L1608.4 762.2 L1611.5 762.4 L1614.6 762.6 L1617.6 762.8 L1620.7 762.9 L1623.8 763.1 L1626.8 763.3 L1629.9 763.4 L1632.9 763.6 L1636.0 763.7 L1639.0 763.8 L1642.1 763.9 L1645.1 764.1 L1648.2 764.2 L1651.2 764.3 L1654.3 764.4 L1657.3 764.5 L1660.3 764.6 L1663.4 764.6 L1666.4 764.7 L1669.5 764.7 L1672.5 764.7 L1675.6 764.7 L1678.6 764.6 L1681.7 764.6 L1684.7 764.5 L1687.9 764.4 L1691.2 764.1 L1694.4 763.9 L1697.6 763.5 L1700.8 763.2 L1704.1 762.8 L1707.3 762.3 L1710.5 761.9 L1713.8 761.4 L1717.0 761.0 L1720.2 760.5 L1723.5 760.1 L1726.8 759.5 L1730.0 759.0 L1733.2 758.5 L1736.5 757.9 L1739.8 757.3 L1743.0 756.8 L1746.2 756.2 L1749.5 755.6 L1753.0 755.0 L1756.4 754.3 L1759.8 753.6 L1763.3 753.0 L1766.8 752.3 L1770.2 751.6" fill="none" stroke="#f5e02d" stroke-width="3.6" stroke-linejoin="round" stroke-linecap="butt"/>
</g>
<g font-family="'Liberation Sans',sans-serif" font-size="21.8" fill="#bbbbbb" stroke="#bbbbbb" stroke-width="0.45"><text x="2043.5" y="220.3" text-anchor="end">0.65000</text><text x="2043.5" y="302.7" text-anchor="end">0.64000</text><text x="2043.5" y="385.1" text-anchor="end">0.63000</text><text x="2043.5" y="467.6" text-anchor="end">0.62000</text><text x="2043.5" y="550.0" text-anchor="end">0.61000</text><text x="2043.5" y="632.4" text-anchor="end">0.60000</text><text x="2043.5" y="714.8" text-anchor="end">0.59000</text><text x="2043.5" y="797.2" text-anchor="end">0.58000</text><text x="2043.5" y="879.7" text-anchor="end">0.57000</text><text x="2043.5" y="962.1" text-anchor="end">0.56000</text><text x="2043.5" y="1044.5" text-anchor="end">0.55000</text><text x="2043.5" y="1126.9" text-anchor="end">0.54000</text></g>
<g font-family="'Liberation Sans',sans-serif" font-size="21.5" fill="#bbbbbb" stroke="#bbbbbb" stroke-width="0.4"><text x="151.2" y="1160.2" text-anchor="middle" font-weight="bold" font-size="22.6" stroke-width="0">2024</text><text x="304.8" y="1160.2" text-anchor="middle">Mar</text><text x="455.6" y="1160.2" text-anchor="middle">May</text><text x="605.8" y="1160.2" text-anchor="middle">Jul</text><text x="763.5" y="1160.2" text-anchor="middle">Sep</text><text x="918" y="1160.2" text-anchor="middle">Nov</text><text x="1068.4" y="1160.2" text-anchor="middle" font-weight="bold" font-size="22.6" stroke-width="0">2025</text><text x="1218.4" y="1160.2" text-anchor="middle">Mar</text><text x="1369.2" y="1160.2" text-anchor="middle">May</text><text x="1519.6" y="1160.2" text-anchor="middle">Jul</text><text x="1673.8" y="1160.2" text-anchor="middle">Sep</text><text x="1831.5" y="1160.2" text-anchor="middle">Nov</text></g>
<text x="1624" y="616.8" font-family="'Liberation Sans',sans-serif" font-size="31" letter-spacing="1.3" fill="#17a85a" stroke="#17a85a" stroke-width="1">MA(50)</text>
<text x="1450" y="788.4" font-family="'Liberation Sans',sans-serif" font-size="32" letter-spacing="0.45" fill="#f5e02d" stroke="#f5e02d" stroke-width="1">MA(200)</text>
</svg>
</body></html>
